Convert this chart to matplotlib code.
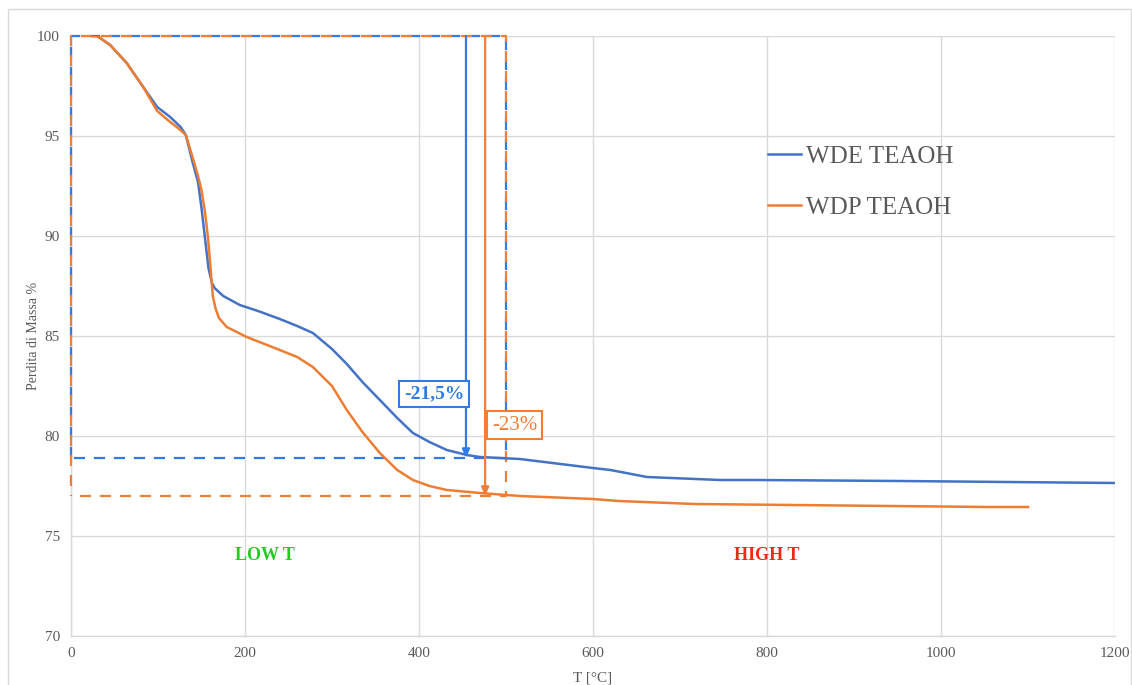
import matplotlib
matplotlib.use("Agg")
import matplotlib.pyplot as plt
from matplotlib.patches import Rectangle

plt.rcParams['font.family'] = ['Liberation Serif', 'DejaVu Serif']

# Thermogravimetric curves (temperature in °C, residual mass in %)
wde_T = [25, 30, 45, 64, 83, 99, 114, 126, 132, 140, 146, 150, 154, 158, 162,
         165, 175, 194, 215, 240, 260, 278, 300, 317, 335, 355, 375, 393, 412,
         432, 455, 470, 516, 600, 620, 662, 746, 789, 953, 1200]
wde_m = [100, 100, 99.55, 98.65, 97.45, 96.45, 95.95, 95.45, 95.05, 93.65, 92.7,
         91.4, 89.9, 88.4, 87.65, 87.4, 87.0, 86.55, 86.25, 85.85, 85.5, 85.15,
         84.35, 83.6, 82.7, 81.8, 80.9, 80.15, 79.7, 79.3, 79.05, 78.95, 78.85,
         78.4, 78.3, 77.95, 77.8, 77.8, 77.75, 77.65]

wdp_T = [25, 30, 45, 64, 83, 99, 114, 123, 132, 140, 146, 150, 154, 157.5, 160,
         163, 166, 170, 179, 202, 240, 260, 278, 300, 317, 335, 355, 375, 393,
         412, 432, 470, 516, 600, 629, 717, 1054, 1100]
wdp_m = [100, 100, 99.55, 98.65, 97.45, 96.25, 95.7, 95.4, 95.05, 93.9, 93.0,
         92.3, 91.2, 89.9, 88.6, 87.0, 86.4, 85.9, 85.45, 84.95, 84.3, 83.95,
         83.45, 82.5, 81.3, 80.2, 79.15, 78.3, 77.8, 77.5, 77.3, 77.15, 77.0,
         76.85, 76.75, 76.6, 76.45, 76.45]

series_names = ["WDE TEAOH", "WDP TEAOH"]

# Mass-loss markers: temperature of the arrow, final residual mass, label
wde_loss_T, wde_final, wde_label = 454, 78.9, "-21,5%"
wdp_loss_T, wdp_final, wdp_label = 476, 77.0, "-23%"
window_T = 500

x_ticks = [0, 200, 400, 600, 800, 1000, 1200]
y_ticks = [70, 75, 80, 85, 90, 95, 100]

c_wde = "#4472C4"
c_wdp = "#ED7D31"
c_wde_mark = "#2F7BEA"
c_wdp_mark = "#F27D35"
grey_txt = "#595959"
grid_col = "#D9D9D9"

fig = plt.figure(figsize=(11.32, 6.85), dpi=100)
fig.patches.append(Rectangle((8 / 1132, -0.1), (1131 - 8) / 1132, 1.1 - 9 / 685,
                             transform=fig.transFigure, fill=False,
                             ec="#D9D9D9", lw=1.0))
ax = fig.add_axes([71 / 1132, 1 - 636 / 685, (1115 - 71) / 1132, 600 / 685])

ax.set_xlim(0, 1200)
ax.set_ylim(70, 100)
ax.set_xticks(x_ticks)
ax.set_yticks(y_ticks)
ax.grid(True, color=grid_col, lw=1.0)
ax.set_axisbelow(True)
for s in ["top", "right"]:
    ax.spines[s].set_visible(False)
for s in ["left", "bottom"]:
    ax.spines[s].set_color(grid_col)
    ax.spines[s].set_linewidth(1.0)
ax.tick_params(length=0, labelsize=11, labelcolor=grey_txt, pad=8)
ax.set_xlabel("T [°C]", fontsize=11, color=grey_txt, labelpad=8)
ax.set_ylabel("Perdita di Massa %", fontsize=10, color=grey_txt, labelpad=-2)

# Dashed reference frames for the two samples
def frame(y_low, color, offset):
    xs = [0, 0, window_T, window_T, 0]
    ys = [y_low, 100, 100, y_low, y_low]
    ax.plot(xs, ys, color=color, lw=1.6, linestyle=(offset, (5, 4)),
            clip_on=False, zorder=3)

frame(wde_final, c_wde_mark, 0)
frame(wdp_final, c_wdp_mark, 4.5)

# TGA curves
ax.plot(wde_T, wde_m, color=c_wde, lw=1.8, label=series_names[0], zorder=4)
ax.plot(wdp_T, wdp_m, color=c_wdp, lw=1.8, label=series_names[1], zorder=4)

# Mass-loss arrows
for xT, yend, col in [(wde_loss_T, wde_final, c_wde_mark),
                      (wdp_loss_T, wdp_final, c_wdp_mark)]:
    ax.annotate("", xy=(xT, yend), xytext=(xT, 100),
                arrowprops=dict(arrowstyle="-|>,head_length=0.5,head_width=0.22",
                                color=col, lw=1.6, shrinkA=0, shrinkB=0),
                zorder=5)

ax.text(wde_loss_T - 2, 82.1, wde_label, ha="right", va="center",
        fontsize=14, fontweight="bold", color=c_wde_mark, zorder=6,
        bbox=dict(boxstyle="square,pad=0.25", fc="white", ec=c_wde_mark, lw=1.5))
ax.text(wdp_loss_T + 8, 80.55, wdp_label, ha="left", va="center",
        fontsize=15, color=c_wdp_mark, zorder=6,
        bbox=dict(boxstyle="square,pad=0.22", fc="white", ec=c_wdp_mark, lw=1.5))

ax.text(223, 74.0, "LOW T", ha="center", va="center", fontsize=13,
        fontweight="bold", color="#22CC22")
ax.text(800, 74.0, "HIGH T", ha="center", va="center", fontsize=13,
        fontweight="bold", color="#F02A10")

leg = ax.legend(loc="upper left", bbox_to_anchor=(0.668, 0.818), frameon=False,
                fontsize=18, handlelength=1.3, handletextpad=0.2,
                labelspacing=1.15, borderpad=0, borderaxespad=0)
for t in leg.get_texts():
    t.set_color(grey_txt)

fig.savefig("out.png", dpi=100)
